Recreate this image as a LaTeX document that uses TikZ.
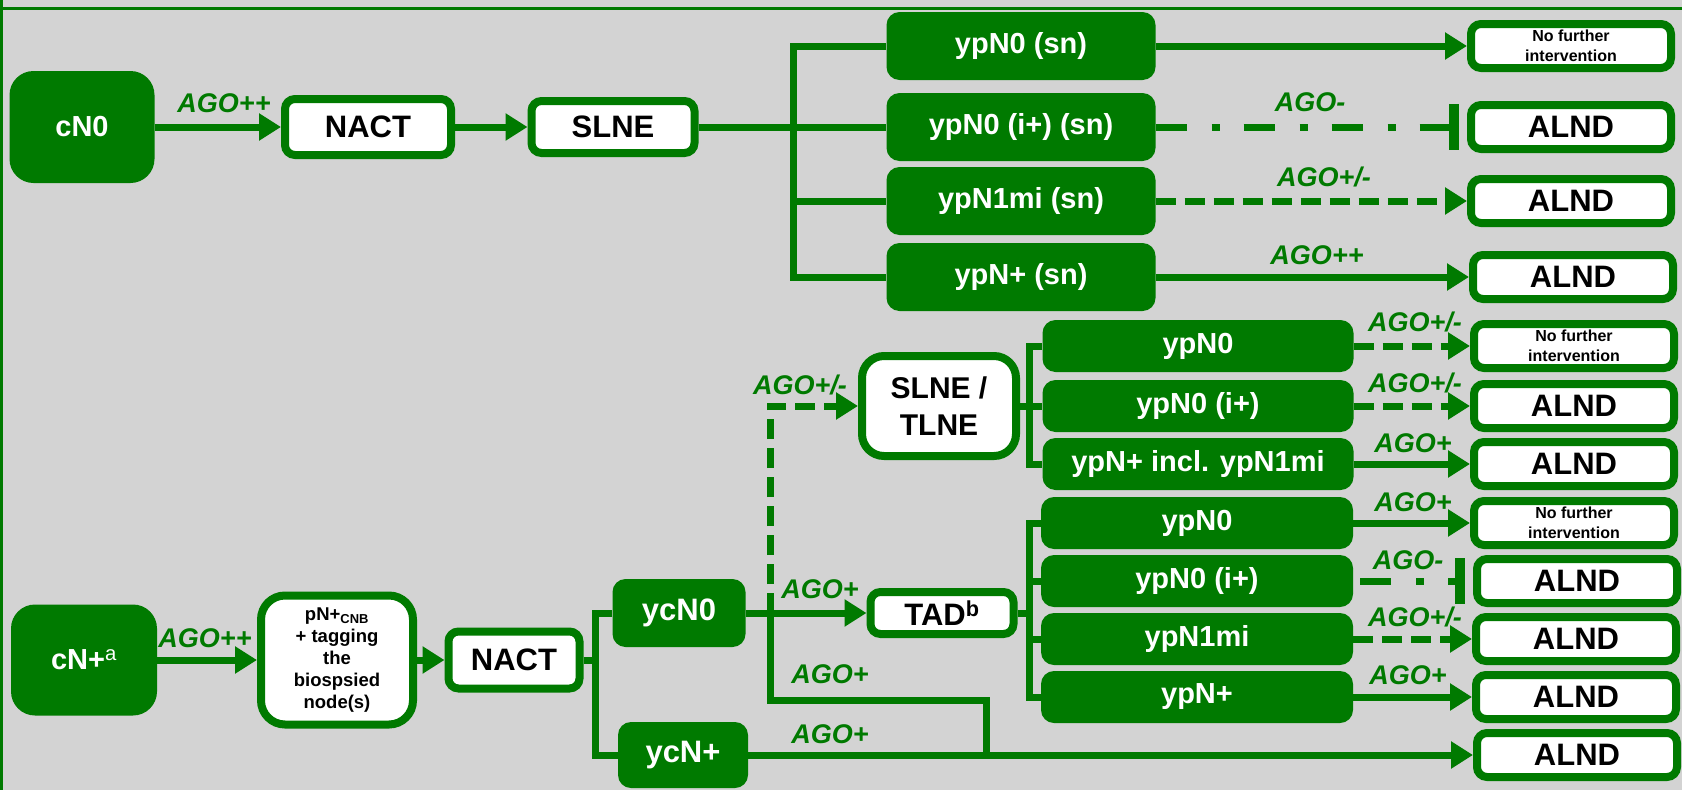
\documentclass[tikz,border=0pt]{standalone}
\usepackage{fontspec}
\setmainfont{Liberation Sans}
\usetikzlibrary{arrows.meta}
\definecolor{agogreen}{RGB}{0,122,0}
\definecolor{panelgray}{RGB}{211,211,211}
\tikzset{
  gbox/.style={fill=agogreen, text=white, rounded corners=13pt, inner sep=0pt, align=center,
    font=\bfseries\fontsize{29}{34}\selectfont},
  wbox/.style={draw=agogreen, line width=8pt, fill=white, text=black, rounded corners=10pt,
    inner sep=0pt, align=center, font=\bfseries\fontsize{31}{37}\selectfont},
  endbox/.style={wbox, minimum width=200pt, minimum height=44pt},
  smalltext/.style={font=\bfseries\fontsize{16}{20}\selectfont},
  ago/.style={text=agogreen, inner sep=0pt, font=\bfseries\itshape\fontsize{27}{30}\selectfont},
  link/.style={draw=agogreen, line width=7pt},
  tolink/.style={link, -{Triangle[length=22pt,width=26pt]}},
  dashlink/.style={tolink, dash pattern=on 20pt off 9pt},
  stoplink/.style={link, dash pattern=on 31pt off 25pt on 8pt off 24pt,
    -{Bar[width=46pt,line width=10pt]}, shorten >=8pt},
}
\begin{document}
\begin{tikzpicture}[x=1pt, y=-1pt]
\fill[panelgray] (0,0) rectangle (1682,790);
\useasboundingbox (0,0) rectangle (1682,790);
\draw[agogreen, line width=3pt] (0,8) -- (1682,8);
\draw[agogreen, line width=3pt] (1.5,0) -- (1.5,790);

% clinically node-negative
\node[gbox, minimum width=145pt, minimum height=112pt, rounded corners=24pt] (cN0) at (82,127) {cN0};
\node[wbox, minimum width=166pt, minimum height=56pt] (nact1) at (368,127) {NACT};
\node[wbox, minimum width=163pt, minimum height=52pt] (slne1) at (613,127) {SLNE};
\coordinate (b1) at (793,127);
\node[gbox, minimum width=269pt, minimum height=68pt] (yp1) at (1021,46) {ypN0 (sn)};
\node[gbox, minimum width=269pt, minimum height=68pt] (yp2) at (1021,127) {ypN0 (i+) (sn)};
\node[gbox, minimum width=269pt, minimum height=68pt] (yp3) at (1021,201) {ypN1mi (sn)};
\node[gbox, minimum width=269pt, minimum height=68pt] (yp4) at (1021,277) {ypN+ (sn)};
\node[endbox, smalltext] (o1) at (1571,46) {No further\\intervention};
\node[endbox] (o2) at (1571,127) {ALND};
\node[endbox] (o3) at (1571,201) {ALND};
\node[endbox] (o4) at (1573,277) {ALND};

\draw[tolink] (cN0) -- (nact1);
\draw[tolink] (nact1) -- (slne1);
\draw[link] (slne1) -- (b1);
\draw[link] (yp1.west) -| (b1) |- (yp4.west);
\draw[link] (b1) -- (yp2.west);
\draw[link] (b1) |- (yp3.west);
\draw[tolink] (yp1) -- (o1);
\draw[stoplink] (yp2) -- (o2);
\draw[dashlink] (yp3) -- (o3);
\draw[tolink] (yp4) -- (o4);
\node[ago] (l1) at (224,103) {AGO++};
\node[ago] (l2) at (1310,102) {AGO-};
\node[ago] (l3) at (1324,177) {AGO+/-};
\node[ago] (l4) at (1317,255) {AGO++};

% clinically node-positive
\node[gbox, minimum width=146pt, minimum height=111pt, rounded corners=24pt] (cNp) at (84,660) {cN+\textsuperscript{\mdseries a}};
\node[wbox, minimum width=152pt, minimum height=129pt, rounded corners=24pt,
  font=\bfseries\fontsize{18.5}{22}\selectfont] (pnb) at (337,660) {pN+\textsubscript{CNB}\\+ tagging\\the\\biospsied\\node(s)};
\node[wbox, minimum width=131pt, minimum height=57pt] (nact2) at (514,660) {NACT};
\coordinate (b2) at (595,660);
\node[gbox, minimum width=133pt, minimum height=68pt, font=\bfseries\fontsize{31}{36}\selectfont] (ycN0) at (679,613) {ycN0};
\node[gbox, minimum width=130pt, minimum height=66pt, font=\bfseries\fontsize{31}{36}\selectfont] (ycNp) at (683,755) {ycN+};
\node[wbox, minimum width=154pt, minimum height=100pt, rounded corners=22pt,
  font=\bfseries\fontsize{30}{37}\selectfont] (slt) at (939,406) {SLNE /\\TLNE};
\node[wbox, minimum width=143pt, minimum height=42pt] (tad) at (942,613) {TAD\textsuperscript{b}};
\coordinate (j1) at (770,613);
\coordinate (j2) at (986,700);
\coordinate (j3) at (986,755);
\coordinate (b3) at (1029,406);
\coordinate (b4) at (1029,613);

\node[gbox, minimum width=311pt, minimum height=52pt] (g1) at (1198,346) {ypN0};
\node[gbox, minimum width=311pt, minimum height=52pt] (g2) at (1198,406) {ypN0 (i+)};
\node[gbox, minimum width=311pt, minimum height=52pt] (g3) at (1198,464) {ypN+ incl. ypN1mi};
\node[gbox, minimum width=312pt, minimum height=52pt] (h1) at (1197,523) {ypN0};
\node[gbox, minimum width=312pt, minimum height=52pt] (h2) at (1197,581) {ypN0 (i+)};
\node[gbox, minimum width=312pt, minimum height=52pt] (h3) at (1197,639) {ypN1mi};
\node[gbox, minimum width=312pt, minimum height=52pt] (h4) at (1197,697) {ypN+};
\node[endbox, smalltext] (o5) at (1574,346) {No further\\intervention};
\node[endbox] (o6) at (1574,406) {ALND};
\node[endbox] (o7) at (1574,464) {ALND};
\node[endbox, smalltext] (o8) at (1574,523) {No further\\intervention};
\node[endbox] (o9) at (1577,581) {ALND};
\node[endbox] (o10) at (1576,639) {ALND};
\node[endbox] (o11) at (1576,697) {ALND};
\node[endbox] (o12) at (1577,755) {ALND};

\draw[tolink] (cNp) -- (pnb);
\draw[tolink] (pnb) -- (nact2);
\draw[link] (nact2) -- (b2);
\draw[link] (ycN0.west) -| (b2) |- (ycNp.west);
\draw[tolink] (ycN0) -- (tad);
\draw[dashlink] (j1) |- (slt.west);
\draw[link] (j1) |- (j2) -- (j3);
\draw[tolink] (ycNp) -- (o12);
\draw[link] (slt) -- (b3);
\draw[link] (g1.west) -| (b3) |- (g3.west);
\draw[link] (b3) -- (g2);
\draw[link] (tad) -- (b4);
\draw[link] (h1.west) -| (b4) |- (h4.west);
\draw[link] (b4) |- (h2.west);
\draw[link] (b4) |- (h3.west);
\draw[dashlink] (g1) -- (o5);
\draw[dashlink] (g2) -- (o6);
\draw[tolink] (g3) -- (o7);
\draw[tolink] (h1) -- (o8);
\draw[stoplink, shorten <=7pt] (h2) -- (o9);
\draw[dashlink] (h3) -- (o10);
\draw[tolink] (h4) -- (o11);
\node[ago] (l5) at (205,638) {AGO++};
\node[ago] (l6) at (800,385) {AGO+/-};
\node[ago] (l7) at (820,589) {AGO+};
\node[ago] (l8) at (830,674) {AGO+};
\node[ago] (l9) at (830,734) {AGO+};
\node[ago] (l10) at (1415,322) {AGO+/-};
\node[ago] (l11) at (1415,383) {AGO+/-};
\node[ago] (l12) at (1413,443) {AGO+};
\node[ago] (l13) at (1413,502) {AGO+};
\node[ago] (l14) at (1408,560) {AGO-};
\node[ago] (l15) at (1415,617) {AGO+/-};
\node[ago] (l16) at (1408,675) {AGO+};
\end{tikzpicture}
\end{document}
